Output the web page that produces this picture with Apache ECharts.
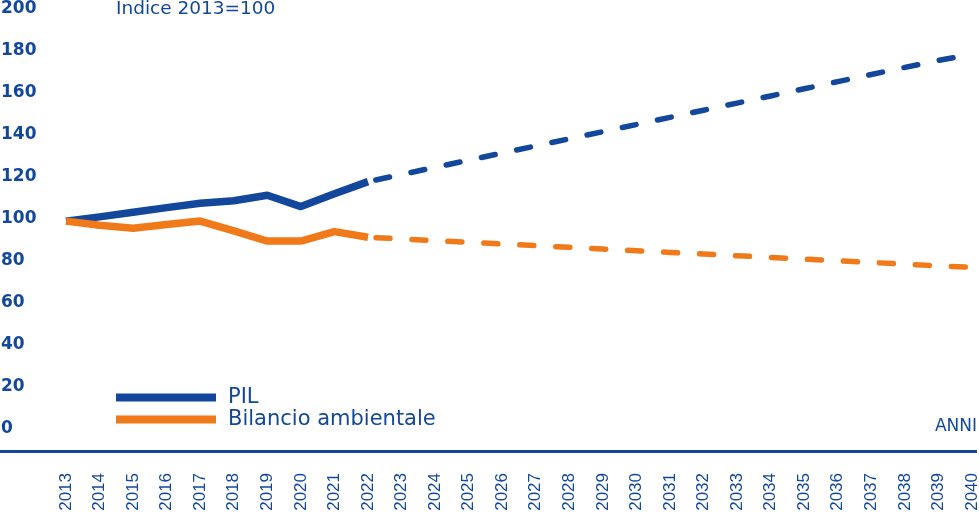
<!DOCTYPE html>
<html>
<head>
<meta charset="utf-8">
<script src="https://cdn.jsdelivr.net/npm/echarts@6/dist/echarts.min.js"></script>
<style>
html,body{margin:0;padding:0;background:#fff;}
#chart{width:979px;height:528px;}
</style>
</head>
<body>
<div id="chart"></div>
<script>
const years = ['2013','2014','2015','2016','2017','2018','2019','2020','2021','2022','2023','2024','2025','2026','2027','2028','2029','2030','2031','2032','2033','2034','2035','2036','2037','2038','2039','2040'];
// Observed values (2013-2022)
const pilActual = [99, 101, 103.2, 105.4, 107.5, 108.7, 111.3, 105.9, 112, 117.8];
const ambActual = [99, 97, 95.6, 97.4, 99, 94.3, 89.5, 89.5, 94, 91.3];
// Projections (2022-2040)
const pilForecast = [117.8, 121.2, 124.6, 128, 131.4, 134.8, 138.2, 141.6, 145, 148.4, 151.8, 155.2, 158.6, 162, 165.4, 168.8, 172.2, 175.5, 178.5];
const ambForecast = [91.3, 90.5, 89.7, 88.9, 88.1, 87.3, 86.5, 85.7, 84.9, 84.1, 83.3, 82.5, 81.7, 80.9, 80.1, 79.3, 78.5, 77.7, 77];
const yTicks = [0, 20, 40, 60, 80, 100, 120, 140, 160, 180, 200];

const BLUE = '#12479b';
const ORANGE = '#f07a1a';

const pad = (arr, start) => years.map((y, i) => (i >= start && i - start < arr.length) ? arr[i - start] : null);

const chart = echarts.init(document.getElementById('chart'));
chart.setOption({
  animation: false,
  grid: { left: 66, right: 7, top: 9, bottom: 99, containLabel: false, outerBoundsMode: 'none' },
  xAxis: {
    type: 'category',
    data: years,
    boundaryGap: false,
    offset: 24,
    axisLine: { show: false },
    axisTick: { show: false },
    axisLabel: {
      interval: 0, rotate: 90, margin: 20,
      color: BLUE, fontFamily: 'Liberation Sans', fontSize: 17
    }
  },
  yAxis: {
    type: 'value',
    min: yTicks[0], max: yTicks[yTicks.length - 1], interval: 20,
    axisLine: { show: false },
    axisTick: { show: false },
    splitLine: { show: false },
    axisLabel: {
      align: 'left', margin: 65,
      color: BLUE, fontFamily: 'DejaVu Sans', fontWeight: 'bold', fontSize: 17
    }
  },
  legend: {
    data: ['PIL', 'Bilancio ambientale'],
    orient: 'vertical',
    left: 111, top: 382,
    itemWidth: 100, itemHeight: 8, itemGap: 1,
    icon: 'rect',
    textStyle: { color: BLUE, fontFamily: 'DejaVu Sans', fontSize: 21, padding: [0, 0, 0, 7] }
  },
  graphic: [
    { type: 'rect', shape: { x: 0, y: 450, width: 977, height: 3 }, style: { fill: BLUE } },
    { type: 'text', left: 116, top: 0, style: { text: 'Indice 2013=100', fill: BLUE, font: '18.5px "DejaVu Sans"' } },
    { type: 'text', right: 2, top: 418, style: { text: 'ANNI', fill: BLUE, font: '17px "DejaVu Sans"' } }
  ],
  series: [
    { name: 'PIL', type: 'line', data: pad(pilActual, 0), showSymbol: false,
      itemStyle: { color: BLUE }, lineStyle: { color: BLUE, width: 7.5, join: 'round' } },
    { name: 'Bilancio ambientale', type: 'line', data: pad(ambActual, 0), showSymbol: false,
      itemStyle: { color: ORANGE }, lineStyle: { color: ORANGE, width: 7.5, join: 'round' } },
    { name: 'PIL (previsione)', type: 'line', data: pad(pilForecast, 9), showSymbol: false,
      itemStyle: { color: BLUE }, lineStyle: { color: BLUE, width: 5.5, type: [14, 22], dashOffset: -8, cap: 'round' } },
    { name: 'Bilancio ambientale (previsione)', type: 'line', data: pad(ambForecast, 9), showSymbol: false,
      itemStyle: { color: ORANGE }, lineStyle: { color: ORANGE, width: 5.5, type: [14, 22], dashOffset: -8, cap: 'round' } }
  ]
});
</script>
</body>
</html>
